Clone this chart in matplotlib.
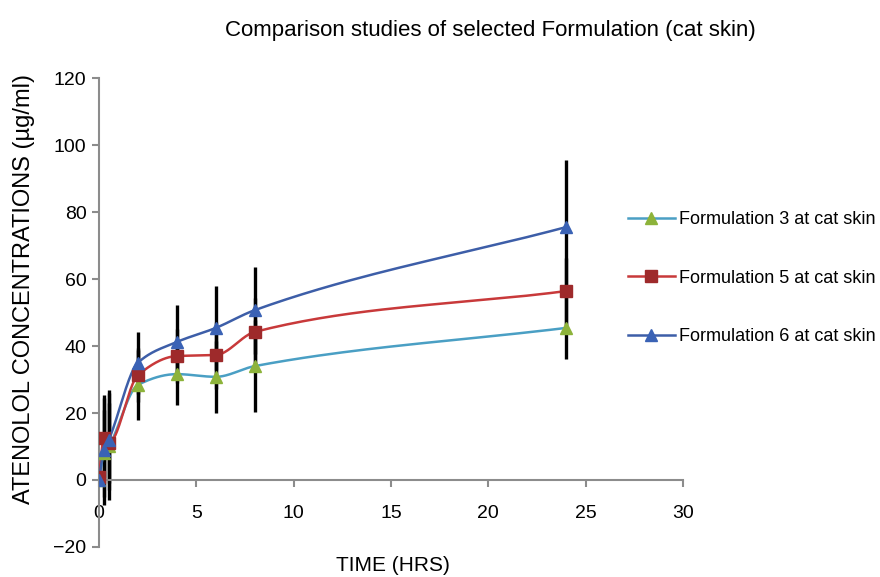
import matplotlib
matplotlib.use("Agg")
import matplotlib.pyplot as plt
import numpy as np

# sampling times (hrs)
time_hrs = [0, 0.25, 0.5, 2, 4, 6, 8, 24]

# mean concentrations (ug/ml)
f3_mean = [0, 8, 10, 28.4, 31.6, 30.8, 34.0, 45.4]
f5_mean = [1, 12.5, 11, 31.3, 37.0, 37.3, 44.2, 56.4]
f6_mean = [0, 9, 12, 35.0, 41.2, 45.4, 50.7, 75.5]

# standard deviations
f3_err = [0, 13, 16, 10.5, 9.2, 10.8, 13.7, 9.4]
f5_err = [0, 12, 12, 8, 8, 10, 10, 10]
f6_err = [0, 16.4, 15, 9.2, 11, 12.5, 13, 20]

labels = ["Formulation 3 at cat skin", "Formulation 5 at cat skin",
          "Formulation 6 at cat skin"]
line_colors = ["#4a9fc4", "#c8393a", "#3d5ea8"]
marker_colors = ["#8db33a", "#9e2a2b", "#3a62b5"]
marker_shapes = ["^", "s", "^"]


def smooth_curve(x, y, n=40):
    """Monotone cubic (PCHIP-style) curve through the points."""
    x = np.asarray(x, float)
    y = np.asarray(y, float)
    h = np.diff(x)
    d = np.diff(y) / h
    m = np.zeros_like(y)
    for i in range(1, len(x) - 1):
        if d[i - 1] * d[i] > 0:
            w1 = 2 * h[i] + h[i - 1]
            w2 = h[i] + 2 * h[i - 1]
            m[i] = (w1 + w2) / (w1 / d[i - 1] + w2 / d[i])
    m[0] = d[0]
    m[-1] = d[-1]
    xs, ys = [], []
    for i in range(len(x) - 1):
        t = np.linspace(0, 1, n)
        h00 = 2 * t**3 - 3 * t**2 + 1
        h10 = t**3 - 2 * t**2 + t
        h01 = -2 * t**3 + 3 * t**2
        h11 = t**3 - t**2
        xs.append(x[i] + t * h[i])
        ys.append(h00 * y[i] + h10 * h[i] * m[i] + h01 * y[i + 1] + h11 * h[i] * m[i + 1])
    return np.concatenate(xs), np.concatenate(ys)


plt.rcParams['font.family'] = ['Liberation Sans', 'DejaVu Sans']

fig = plt.figure(figsize=(8.8, 5.77), dpi=100)
ax = fig.add_axes([0.1125, 0.052, 0.6636, 0.8128])

series = [(f3_mean, f3_err), (f5_mean, f5_err), (f6_mean, f6_err)]

# error bars (black, no caps)
for mean, err in series:
    ax.errorbar(time_hrs, mean, yerr=err, fmt="none", ecolor="black",
                elinewidth=2.4, capsize=0, zorder=2)

for (mean, err), lab, lc, mc, mk in zip(series, labels, line_colors,
                                        marker_colors, marker_shapes):
    xs, ys = smooth_curve(time_hrs, mean)
    ax.plot(xs, ys, color=lc, lw=1.8, zorder=3)
    ax.plot(time_hrs, mean, linestyle="none", marker=mk, color=mc,
            markersize=9 if mk == "^" else 8, zorder=4)
    # legend proxy
    ax.plot([], [], color=lc, lw=1.8, marker=mk, markerfacecolor=mc,
            markeredgecolor=mc, markersize=9 if mk == "^" else 8, label=lab)

ax.set_xlim(0, 30)
ax.set_ylim(-20, 120)
ax.set_xticks(np.arange(0, 31, 5))
ax.set_yticks(np.arange(-20, 121, 20))

ax.spines['top'].set_visible(False)
ax.spines['right'].set_visible(False)
ax.spines['bottom'].set_position(('data', 0))
for s in ['left', 'bottom']:
    ax.spines[s].set_color("#8c8c8c")
    ax.spines[s].set_linewidth(1.5)
ax.tick_params(axis='both', colors="#8c8c8c", labelcolor="black",
               labelsize=14, length=5, width=1.5)
ax.tick_params(axis='x', pad=13)
ax.tick_params(axis='y', pad=4)

ax.set_ylabel("ATENOLOL CONCENTRATIONS (\u00b5g/ml)", fontsize=17)
ax.yaxis.set_label_coords(-0.11, 0.55)
ax.set_xlabel("TIME (HRS)", fontsize=15)
ax.xaxis.set_label_coords(0.504, -0.02)

fig.text(0.557, 0.948, "Comparison studies of selected Formulation (cat skin)",
         ha="center", va="center", fontsize=16)

fig.legend(loc="center left", bbox_to_anchor=(0.705, 0.518), frameon=False,
           fontsize=13, labelspacing=2.3, handlelength=2.6, handletextpad=0.25,
           borderaxespad=0.0)

fig.savefig("out.png", dpi=100)
